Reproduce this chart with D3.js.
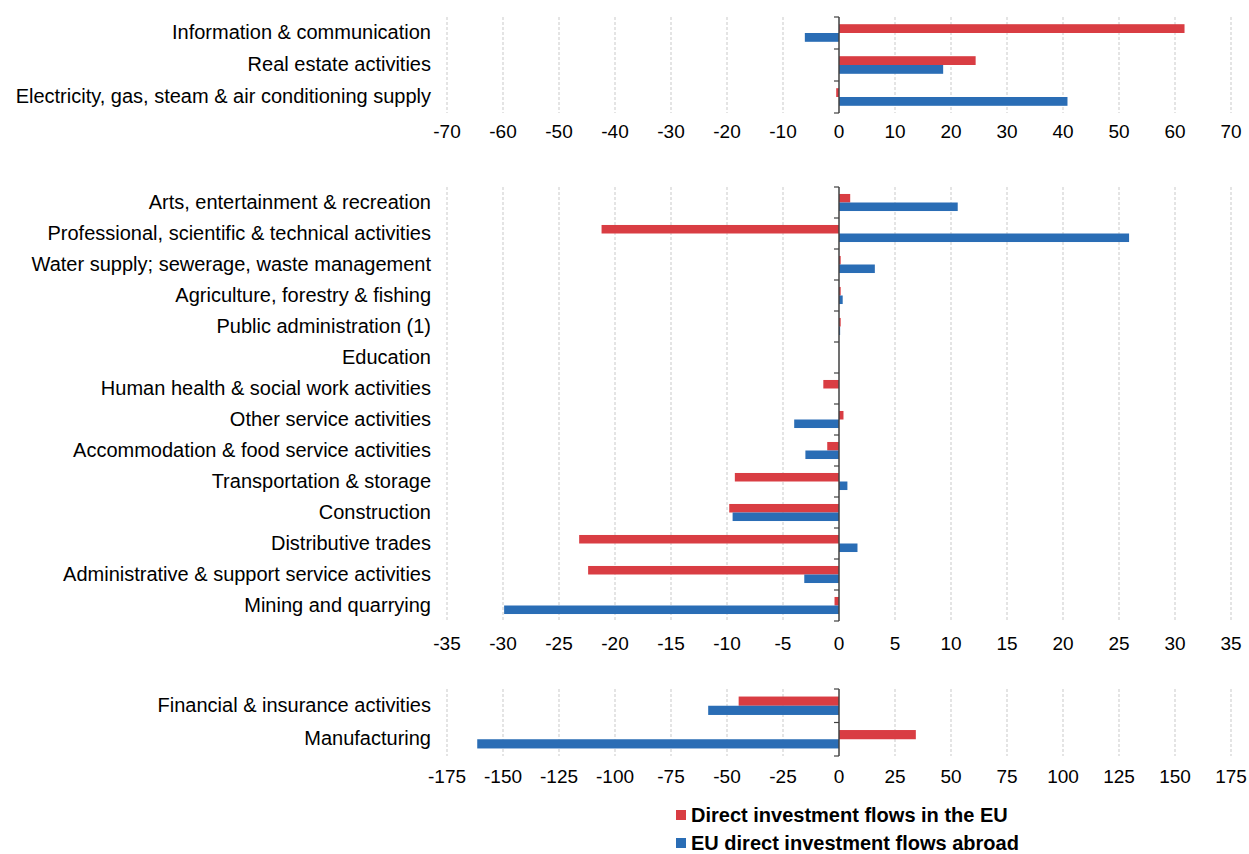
<!DOCTYPE html>
<html><head><meta charset="utf-8">
<script src="https://cdn.jsdelivr.net/npm/d3@7"></script>
<style>
html,body{margin:0;padding:0;background:#fff;}
svg text{font-family:"Liberation Sans",Arial,sans-serif;}
</style>
</head><body>
<svg id="chart" width="1249" height="854"></svg>
<script>
// ---- data ----
const topCategories = ["Information & communication","Real estate activities","Electricity, gas, steam & air conditioning supply"];
const topInflows  = [61.7, 24.4, -0.5];
const topOutflows = [-6.1, 18.6, 40.8];
const topTicks = [-70,-60,-50,-40,-30,-20,-10,0,10,20,30,40,50,60,70];

const midCategories = ["Arts, entertainment & recreation","Professional, scientific & technical activities","Water supply; sewerage, waste management","Agriculture, forestry & fishing","Public administration (1)","Education","Human health & social work activities","Other service activities","Accommodation & food service activities","Transportation & storage","Construction","Distributive trades","Administrative & support service activities","Mining and quarrying"];
const midInflows  = [1.0, -21.2, 0.15, 0.15, 0.15, 0, -1.4, 0.4, -1.05, -9.3, -9.8, -23.2, -22.4, -0.4];
const midOutflows = [10.6, 25.9, 3.2, 0.33, 0.1, 0, 0, -4.0, -3.0, 0.75, -9.5, 1.65, -3.1, -29.9];
const midTicks = [-35,-30,-25,-20,-15,-10,-5,0,5,10,15,20,25,30,35];

const botCategories = ["Financial & insurance activities","Manufacturing"];
const botInflows  = [-44.8, 34.3];
const botOutflows = [-58.4, -161.5];
const botTicks = [-175,-150,-125,-100,-75,-50,-25,0,25,50,75,100,125,150,175];

const seriesNames = ["Direct investment flows in the EU","EU direct investment flows abroad"];
const seriesColors = ["#d93d43","#2a6db5"];

// ---- layout ----
const svg = d3.select("#chart");
const xLeft = 447, xRight = 1231, labelX = 431;
const panels = [
  {cats: topCategories, a: topInflows, b: topOutflows, ticks: topTicks, y0: 17,  y1: 113, tickY: 131},
  {cats: midCategories, a: midInflows, b: midOutflows, ticks: midTicks, y0: 187, y1: 621, tickY: 643},
  {cats: botCategories, a: botInflows, b: botOutflows, ticks: botTicks, y0: 689, y1: 756, tickY: 776}
];

panels.forEach(p => {
  const ext = d3.max(p.ticks.map(Math.abs));
  const x = d3.scaleLinear().domain([-ext, ext]).range([xLeft, xRight]);
  const y = d3.scaleBand().domain(p.cats).range([p.y0, p.y1]).paddingInner(0.45).paddingOuter(0.225);
  const ySub = d3.scaleBand().domain([0,1]).range([0, y.bandwidth()]);
  const g = svg.append("g");

  // gridlines
  g.selectAll("line.grid").data(p.ticks.filter(t => t !== 0)).join("line")
    .attr("x1", d => x(d)).attr("x2", d => x(d))
    .attr("y1", p.y0).attr("y2", p.y1)
    .attr("stroke", "#c9c9c9").attr("stroke-width", 1).attr("stroke-dasharray", "3,2");

  // bars
  [p.a, p.b].forEach((vals, si) => {
    g.selectAll(null).data(vals).join("rect")
      .attr("x", d => x(Math.min(0, d)))
      .attr("width", d => Math.abs(x(d) - x(0)))
      .attr("y", (d, i) => y(p.cats[i]) + ySub(si))
      .attr("height", ySub.bandwidth())
      .attr("fill", seriesColors[si]);
  });

  // zero axis
  const x0 = x(0);
  g.append("line").attr("x1", x0).attr("x2", x0).attr("y1", p.y0).attr("y2", p.y1)
    .attr("stroke", "#404040").attr("stroke-width", 1.5);
  const step = y.step();
  const bounds = d3.range(p.cats.length + 1).map(i => p.y0 + i * step);
  g.selectAll(null).data(bounds).join("line")
    .attr("x1", x0 - 5).attr("x2", x0).attr("y1", d => d).attr("y2", d => d)
    .attr("stroke", "#404040").attr("stroke-width", 1.2);

  // tick labels
  g.selectAll(null).data(p.ticks).join("text")
    .attr("x", d => x(d)).attr("y", p.tickY)
    .attr("text-anchor", "middle").attr("dominant-baseline", "central")
    .attr("font-size", 19).attr("fill", "#000")
    .text(d => d);

  // category labels
  g.selectAll(null).data(p.cats).join("text")
    .attr("x", labelX).attr("y", d => y(d) + y.bandwidth() / 2 - 1)
    .attr("text-anchor", "end").attr("dominant-baseline", "central")
    .attr("font-size", 20).attr("fill", "#000")
    .text(d => d);
});

// legend
const leg = svg.append("g");
seriesNames.forEach((name, i) => {
  const cy = 815 + i * 28;
  leg.append("rect").attr("x", 676).attr("y", cy - 5).attr("width", 10).attr("height", 10).attr("fill", seriesColors[i]);
  leg.append("text").attr("x", 691).attr("y", cy).attr("dominant-baseline", "central")
    .attr("font-size", 20).attr("font-weight", "bold").attr("fill", "#000").text(name);
});
</script>
</body></html>
